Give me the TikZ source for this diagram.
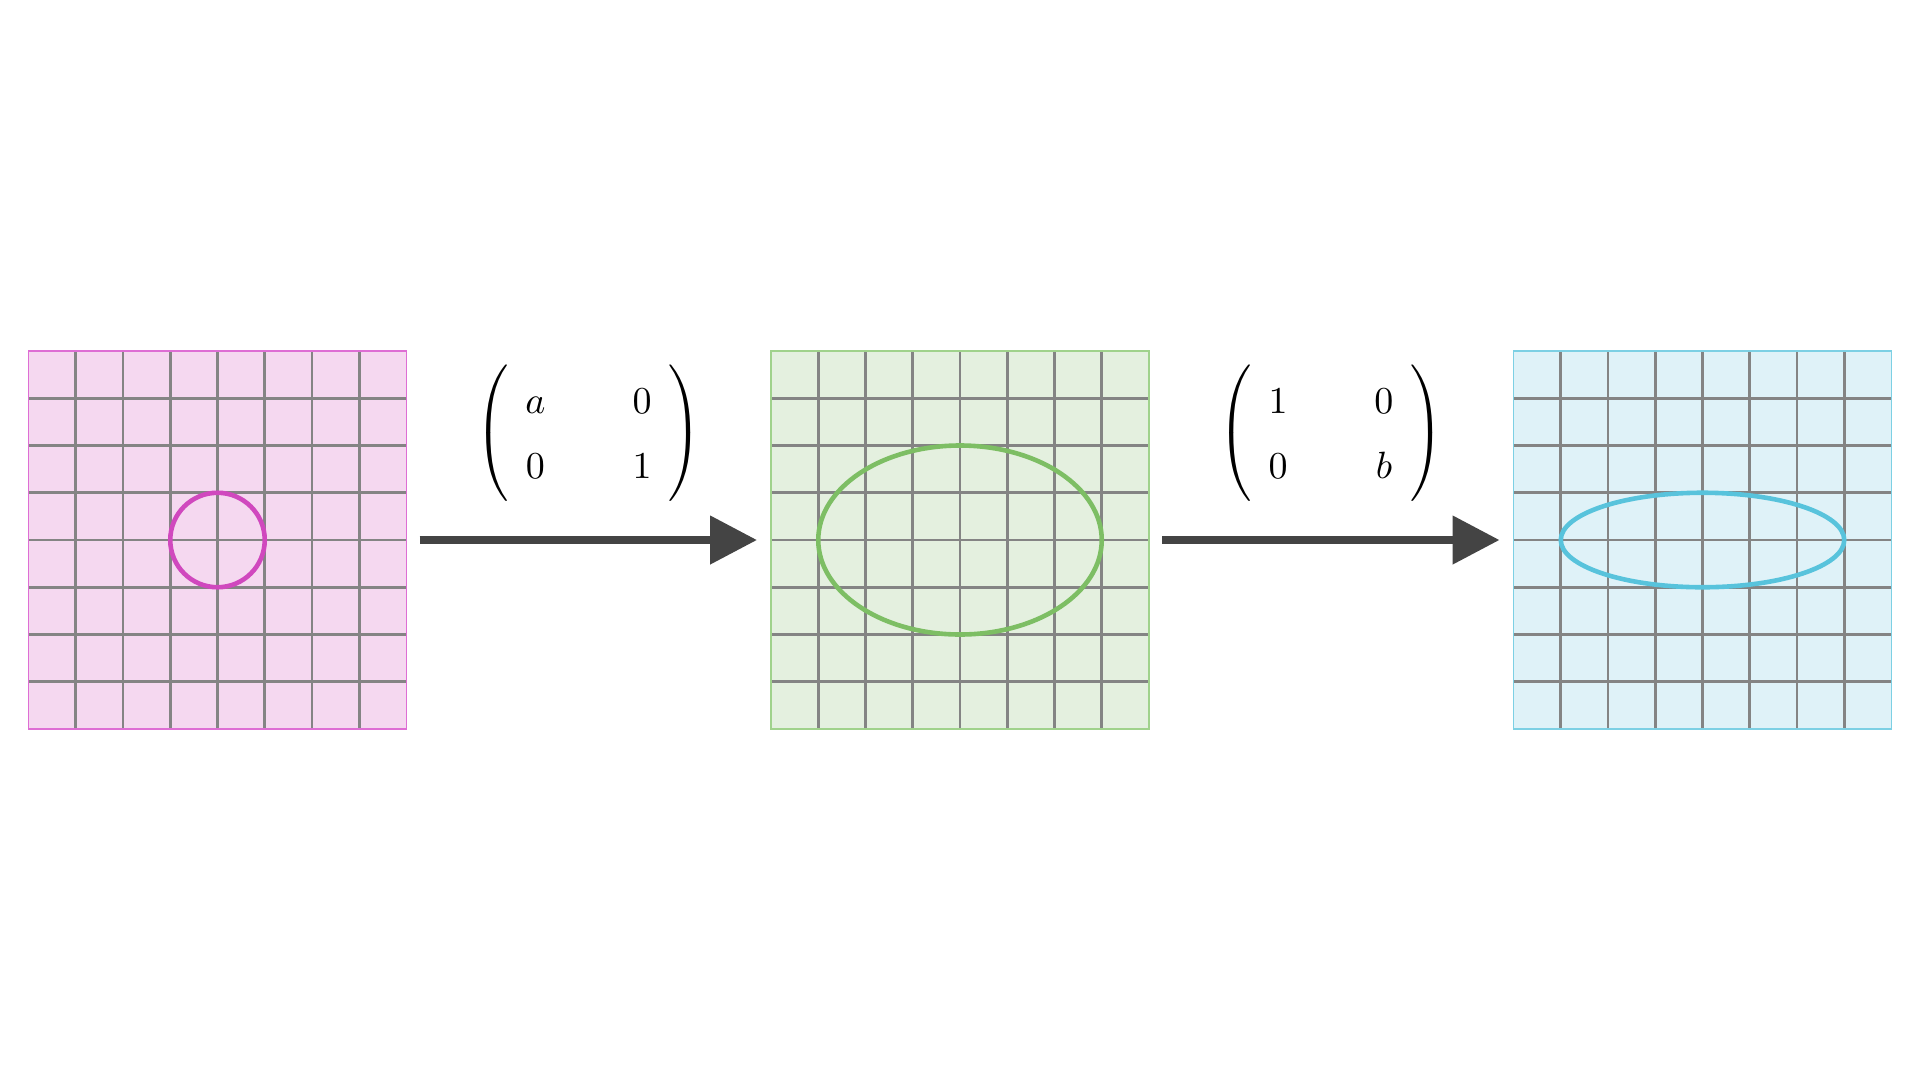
\documentclass[tikz,border=0pt]{standalone}
\usepackage{amsmath}
\usetikzlibrary{arrows.meta,calc}
\definecolor{pinkfill}{RGB}{245,216,240}
\definecolor{pinkline}{RGB}{222,110,212}
\definecolor{pinkcurve}{RGB}{208,72,190}
\definecolor{greenfill}{RGB}{228,240,223}
\definecolor{greenline}{RGB}{160,210,140}
\definecolor{greencurve}{RGB}{125,190,100}
\definecolor{bluefill}{RGB}{223,242,248}
\definecolor{blueline}{RGB}{125,208,228}
\definecolor{bluecurve}{RGB}{88,195,220}
\definecolor{gridgray}{RGB}{132,132,132}
\definecolor{arrowgray}{RGB}{68,68,68}
\tikzset{
  panel/.style={rectangle, minimum size=378pt, inner sep=0pt, outer sep=0pt, draw=none},
  gridline/.style={draw=gridgray, line width=2.6pt},
  border/.style={line width=1.5pt},
  curve/.style={line width=4.6pt},
  conn/.style={draw=arrowgray, line width=8pt, -{Triangle[length=47pt,width=47pt]}, shorten <=13pt, shorten >=14pt},
  matlabel/.style={scale=3.8, inner sep=0pt}
}
\newcommand{\gridpanel}[3]{%
  \fill[#2] (#1.north west) rectangle (#1.south east);
  \foreach \k in {1,...,7} {
    \draw[gridline] ($(#1.north west)+(\k*47.25,0)$) -- ($(#1.south west)+(\k*47.25,0)$);
    \draw[gridline] ($(#1.north west)+(0,\k*47.25)$) -- ($(#1.north east)+(0,\k*47.25)$);
  }
  \draw[border, #3] (#1.north west) rectangle (#1.south east);
}
\begin{document}
\begin{tikzpicture}[x=1pt, y=-1pt]
\useasboundingbox[fill=white] (0,0) rectangle (1920,1080);
\node[panel] (p1) at (217.5,540) {};
\node[panel] (p2) at (960,540) {};
\node[panel] (p3) at (1702.5,540) {};
\gridpanel{p1}{pinkfill}{pinkline}
\gridpanel{p2}{greenfill}{greenline}
\gridpanel{p3}{bluefill}{blueline}
\draw[curve, pinkcurve] (p1.center) circle[radius=47.25];
\draw[curve, greencurve] (p2.center) circle[x radius=141.75, y radius=94.5];
\draw[curve, bluecurve] (p3.center) circle[x radius=141.75, y radius=47.25];
\draw[conn] (p1) -- (p2);
\draw[conn] (p2) -- (p3);
\renewcommand{\arraystretch}{1.425}
\node[matlabel] (m1) at (588.5,433) {$\left(\begin{array}{@{\hspace{4.4pt}}c@{\hspace{22.9pt}}c@{\hspace{4.4pt}}}a&0\\0&1\end{array}\right)$};
\node[matlabel] (m2) at (1331,433) {$\left(\begin{array}{@{\hspace{4.4pt}}c@{\hspace{22.9pt}}c@{\hspace{4.4pt}}}1&0\\0&b\end{array}\right)$};
\end{tikzpicture}
\end{document}
